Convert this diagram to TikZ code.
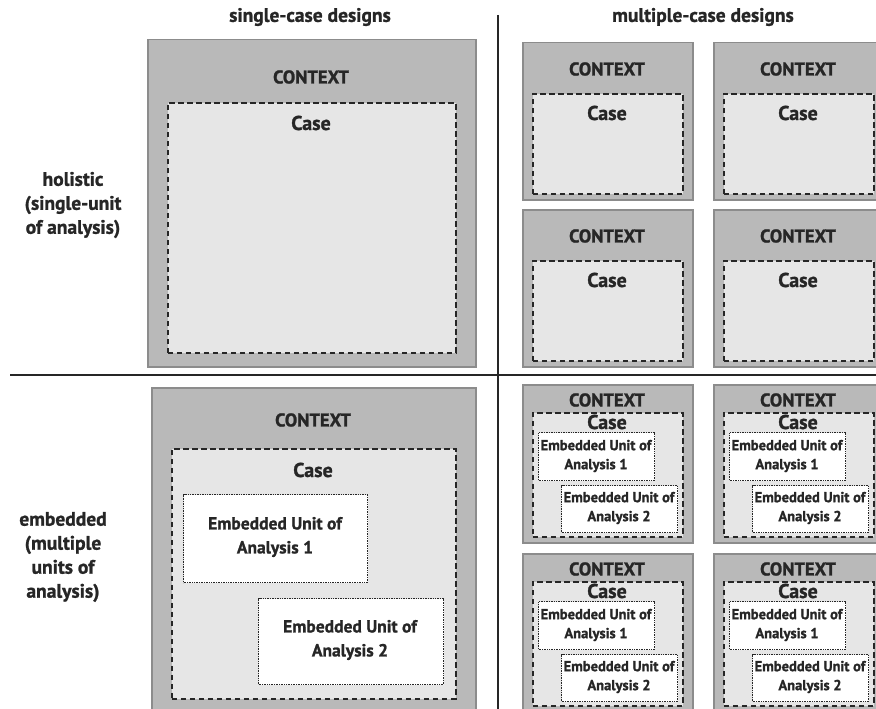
\documentclass[tikz,border=0pt]{standalone}
\usepackage{fontspec}
\setmainfont{PT Sans}[BoldFeatures={FakeBold=1.2}]
\usetikzlibrary{positioning}

\definecolor{ctxgray}{HTML}{B9B9B9}
\definecolor{ctxline}{HTML}{8C8C8C}
\definecolor{casegray}{HTML}{E6E6E6}
\definecolor{inkgray}{HTML}{262626}

\tikzset{
  context/.style={draw=ctxline, line width=1.5pt, fill=ctxgray, anchor=north west, inner sep=0pt},
  casebox/.style={draw=inkgray, line width=1.6pt, dash pattern=on 5.5pt off 3.5pt, fill=casegray, anchor=north west, inner sep=0pt},
  unitbox/.style={draw=inkgray, line width=1.2pt, dash pattern=on 1pt off 0.7pt, fill=white, anchor=north west, inner sep=0pt},
  lbl/.style={font=\bfseries\fontsize{19.5}{24}\selectfont, text=inkgray, align=center},
  ctxlbl/.style={font=\bfseries\fontsize{18.5}{22}\selectfont, text=inkgray},
  caselbl/.style={font=\bfseries\fontsize{20}{22}\selectfont, text=inkgray},
  unitlbl/.style={font=\bfseries\fontsize{17.5}{24}\selectfont, text=inkgray, align=center},
  smallunit/.style={font=\bfseries\fontsize{14.5}{19}\selectfont, text=inkgray, align=center}
}

\begin{document}
\begin{tikzpicture}[x=1pt, y=-1pt]

        \useasboundingbox (0,0) rectangle (876,709);

        % Kopfzeile und Zeilenbeschriftung
        \node[lbl] at (310,17) (single) {single-case designs};
        \node[lbl] at (703,17) (multiple) {multiple-case designs};
        \node[lbl] at (73,205) (holistic) {holistic\\(single-unit\\of analysis)};
        \node[lbl] at (63,557) (embedded) {embedded\\(multiple\\units of\\analysis)};

        % Trennlinien
        \draw[inkgray, line width=2.5pt] (10,375) -- (876,375);
        \draw[inkgray, line width=2.5pt] (498,15) -- (498,709);

        % oben links
        \node[context, minimum width=328pt, minimum height=327pt] at (147,39) (ctxTL) {};
        \node[ctxlbl] at (311,77) {CONTEXT};
        \node[casebox, minimum width=288pt, minimum height=250pt] at (167,102) (caseTL) {};
        \node[caselbl] at (311,123) {Case};

        % oben rechts
        \foreach \x/\y/\n in {522/42/a, 713/42/b, 522/209/c, 713/209/d} {
          \node[context, minimum width=170pt, minimum height=157pt] at (\x,\y) (ctx\n) {};
          \node[ctxlbl] at (\x+85,\y+27) {CONTEXT};
          \node[casebox, minimum width=150pt, minimum height=100pt] at (\x+10,\y+51) (case\n) {};
          \node[caselbl] at (\x+85,\y+71) {Case};
        }

        % unten links
        \node[context, minimum width=324pt, minimum height=330pt] at (151,387) (ctxBL) {};
        \node[ctxlbl] at (313,420) {CONTEXT};
        \node[casebox, minimum width=284pt, minimum height=250pt] at (171,448) (caseBL) {};
        \node[caselbl] at (313,470) {Case};
        \node[unitbox, minimum width=184pt, minimum height=88pt] at (183,494) (unitA) {};
        \node[unitlbl] at (275,537) {Embedded Unit of\\Analysis 1};
        \node[unitbox, minimum width=185pt, minimum height=86pt] at (258,598) (unitB) {};
        \node[unitlbl] at (350,640) {Embedded Unit of\\Analysis 2};

        % unten rechts
        \foreach \x/\y/\n in {522/384/e, 713/384/f, 522/553/g, 713/553/h} {
          \node[context, minimum width=170pt, minimum height=158pt] at (\x,\y) (ctx\n) {};
          \node[ctxlbl] at (\x+85,\y+16) {CONTEXT};
          \node[casebox, minimum width=150pt, minimum height=124pt] at (\x+10,\y+28) (case\n) {};
          \node[caselbl] at (\x+85,\y+38) {Case};
          \node[unitbox, minimum width=116pt, minimum height=48pt] at (\x+16,\y+48) (unit\n1) {};
          \node[smallunit] at (\x+74,\y+72) {Embedded Unit of\\Analysis 1};
          \node[unitbox, minimum width=116pt, minimum height=47pt] at (\x+39,\y+101) (unit\n2) {};
          \node[smallunit] at (\x+97,\y+124) {Embedded Unit of\\Analysis 2};
        }

    \end{tikzpicture}
\end{document}
